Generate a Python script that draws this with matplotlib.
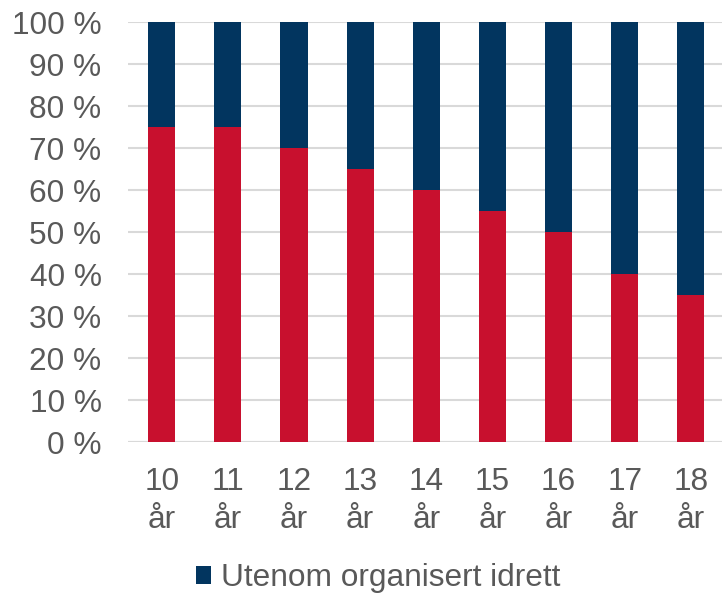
import matplotlib
matplotlib.use("Agg")
import matplotlib.pyplot as plt
import numpy as np

plt.rcParams['font.family'] = ['Liberation Sans', 'DejaVu Sans']

# data
ages = ["10\når", "11\når", "12\når", "13\når", "14\når", "15\når", "16\når", "17\når", "18\når"]
organisert = [75, 75, 70, 65, 60, 55, 50, 40, 35]
utenom = [25, 25, 30, 35, 40, 45, 50, 60, 65]

red = "#C8102E"
navy = "#02355F"
grey_text = "#595959"
fs = 22.8

fig = plt.figure(figsize=(7.22, 5.93), dpi=100)
ax = fig.add_axes([128 / 722, 1 - 442 / 593, (722 - 128) / 722, 420 / 593])

x = np.arange(len(ages))
ax.bar(x, organisert, width=0.41, color=red, zorder=2, label="_nolegend_")
ax.bar(x, utenom, width=0.41, bottom=organisert, color=navy, zorder=2,
       label="Utenom organisert idrett")

ax.set_ylim(0, 100)
ax.set_xlim(-0.51, 8.47)
ax.set_yticks(range(0, 101, 10))
ax.set_yticklabels([f"{v} %" for v in range(0, 101, 10)])
ax.set_xticks(x)
ax.set_xticklabels(ages, linespacing=1.35)

ax.yaxis.grid(True, color="#D9D9D9", linewidth=1.5, zorder=0)
ax.set_axisbelow(True)
for s in ax.spines.values():
    s.set_visible(False)
ax.axhline(0, color="#D9D9D9", linewidth=1.5, zorder=1)

ax.tick_params(axis="y", length=0, pad=19, labelsize=fs, labelcolor=grey_text)
ax.tick_params(axis="x", length=0, pad=18, labelsize=fs, labelcolor=grey_text)

fig.legend(loc="center", bbox_to_anchor=(378 / 722, 1 - 578 / 593), frameon=False,
           fontsize=fs, labelcolor=grey_text, handlelength=0.5, handleheight=0.5,
           handletextpad=0.3, borderpad=0)

fig.savefig("out.png", dpi=100)
